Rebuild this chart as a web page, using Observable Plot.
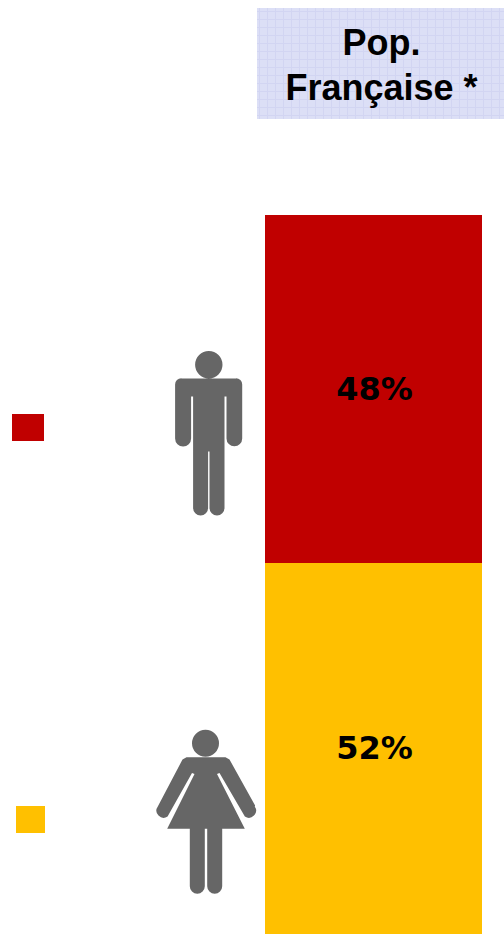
<!DOCTYPE html>
<html>
<head>
<meta charset="utf-8">
<script src="https://cdn.jsdelivr.net/npm/d3@7"></script>
<script src="https://cdn.jsdelivr.net/npm/@observablehq/plot@0.6"></script>
<style>
  html, body { margin: 0; padding: 0; background: #fff; }
  svg { display: block; }
</style>
</head>
<body>
<script>
// Values (shares of the French population)
const groups = ["Femmes", "Hommes"];
const shares = [0.516, 0.484];
const colors = ["#ffc000", "#c00000"];
const headerLines = ["Pop.", "Française *"];

const width = 504, height = 934;
// Bar occupies the pixels 934 → 215, which is the whole 0–100 % range
const pct = d3.scaleLinear().domain([0, 1]).range([934, 215]);
const Y = (px) => pct.invert(px);

const table = groups.map((group, i) => ({group, share: shares[i], color: colors[i]}));

// Pictograms, drawn around their own anchor
const manAnchor = [208, 434];
const womanAnchor = [205, 812];
const manSymbol = {
  draw(c) {
    const [ax, ay] = manAnchor;
    const M = (x, y) => c.moveTo(x - ax, y - ay), L = (x, y) => c.lineTo(x - ax, y - ay);
    const A = (x, y, r, a, b) => c.arc(x - ax, y - ay, r, a, b, false);
    M(222.0, 364.3); A(208.3, 364.3, 13.7, 0, 2 * Math.PI); c.closePath();
    M(181, 378); L(235.5, 378);
    A(235.5, 384, 6.2, -Math.PI / 2, 0);
    L(241.7, 438); A(233.85, 438, 7.85, 0, Math.PI);
    L(226, 396); L(224, 396); L(224, 507.5);
    A(216.5, 507.5, 7.5, 0, Math.PI);
    L(209, 451); L(207.6, 451); L(207.6, 507.5);
    A(200.1, 507.5, 7.5, 0, Math.PI);
    L(192.6, 396); L(190.6, 396); L(190.6, 438);
    A(182.6, 438, 8, 0, Math.PI);
    L(174.6, 384);
    A(180.8, 384, 6.2, Math.PI, 1.5 * Math.PI);
    c.closePath();
  }
};
const womanSymbol = {
  draw(c) {
    const [ax, ay] = womanAnchor;
    const M = (x, y) => c.moveTo(x - ax, y - ay), L = (x, y) => c.lineTo(x - ax, y - ay);
    const A = (x, y, r, a, b) => c.arc(x - ax, y - ay, r, a, b, false);
    M(218.5, 742.7); A(205, 742.7, 13.5, 0, 2 * Math.PI); c.closePath();
    M(186, 756.7); L(225, 756.7); L(229, 759);
    L(254.6, 805);
    A(248.3, 810, 7.2, -0.6, 2.15);
    L(219, 772.5); L(216.5, 773.5);
    L(244.3, 828.3); L(221.7, 828.3); L(221.7, 885.8);
    A(214.2, 885.8, 7.5, 0, Math.PI);
    L(206.7, 828.3); L(204.3, 828.3); L(204.3, 885.8);
    A(196.8, 885.8, 7.5, 0, Math.PI);
    L(189.3, 828.3); L(166.7, 828.3);
    L(194, 773.5); L(191.5, 772.5);
    A(163.2, 810, 7.2, 1.0, 3.75);
    L(182, 759);
    c.closePath();
  }
};

const patternDefs = () => {
  const ns = "http://www.w3.org/2000/svg";
  const defs = document.createElementNS(ns, "defs");
  const p = document.createElementNS(ns, "pattern");
  p.setAttribute("id", "headerPattern");
  p.setAttribute("patternUnits", "userSpaceOnUse");
  p.setAttribute("width", 8);
  p.setAttribute("height", 8);
  const add = (tag, attrs) => {
    const e = document.createElementNS(ns, tag);
    for (const k in attrs) e.setAttribute(k, attrs[k]);
    p.appendChild(e);
  };
  add("rect", {width: 8, height: 8, fill: "#dcdff6"});
  add("rect", {x: 0, y: 3, width: 8, height: 1, fill: "#d2d5f2"});
  add("rect", {x: 3, y: 0, width: 1, height: 8, fill: "#d2d5f2"});
  defs.appendChild(p);
  return defs;
};

const chart = Plot.plot({
  width, height,
  margin: 0,
  style: {background: "#fff", overflow: "hidden"},
  x: {domain: [0, width], range: [0, width], axis: null},
  y: {domain: [Y(height), Y(0)], range: [height, 0], axis: null},
  marks: [
    patternDefs,
    // header
    Plot.rect([0], {x1: 257, x2: 504, y1: Y(8), y2: Y(119), fill: "url(#headerPattern)"}),
    Plot.text(headerLines, {
      x: 381, y: (d, i) => Y(i === 0 ? 54 : 99), text: d => d,
      fontFamily: "Liberation Sans", fontWeight: "bold", fontSize: 36,
      fill: "#000", textAnchor: "middle", lineAnchor: "bottom"
    }),
    // stacked bar
    Plot.rectY(table, {x1: 265, x2: 482, y: "share", fill: "color", inset: 0}),
    Plot.text(table, Plot.stackY({
      x: 374, y: "share", text: d => d3.format(".0%")(d.share),
      fontFamily: "DejaVu Sans", fontWeight: "bold", fontSize: 32,
      fill: "#000", textAnchor: "middle", dy: 0
    })),
    // legend swatches
    Plot.rect([table[1]], {x1: 12, x2: 44, y1: Y(414), y2: Y(441), fill: "color"}),
    Plot.rect([table[0]], {x1: 16, x2: 45, y1: Y(806), y2: Y(833), fill: "color"}),
    // pictograms
    Plot.dot([table[1]], {x: manAnchor[0], y: Y(manAnchor[1]), r: 1, symbol: manSymbol, fill: "#666666", stroke: "none"}),
    Plot.dot([table[0]], {x: womanAnchor[0], y: Y(womanAnchor[1]), r: 1, symbol: womanSymbol, fill: "#666666", stroke: "none"})
  ]
});
document.body.appendChild(chart);
</script>
</body>
</html>
